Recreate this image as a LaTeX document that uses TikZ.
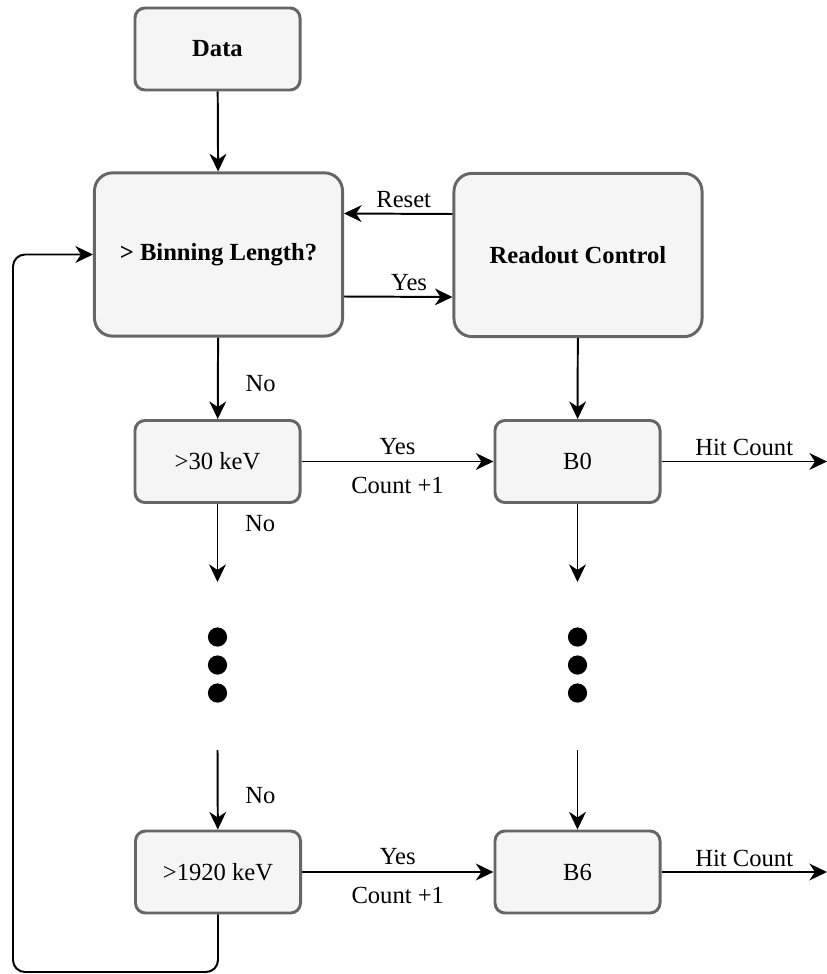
\documentclass[tikz,border=0pt]{standalone}
\usepackage{fontspec}
\setmainfont{Liberation Serif}
\usetikzlibrary{arrows.meta,calc}

\definecolor{boxfill}{HTML}{F5F5F5}
\definecolor{boxline}{HTML}{666666}

\newcommand{\flowfont}{\fontsize{17.5}{20}\selectfont}

\tikzset{
	block/.style={rectangle,draw=boxline,fill=boxfill,line width=2.1pt,rounded corners=0.25cm,
		minimum width=4.125cm,minimum height=2.05cm,inner sep=0pt,align=center},
	bigblock/.style={block,rounded corners=0.45cm,minimum width=6.2cm,minimum height=4.08cm},
	flow/.style={-{Stealth[length=0.44cm,width=0.42cm,inset=0.14cm]},line width=1.4pt},
	blob/.style={circle,fill=black,inner sep=0pt,minimum size=0.48cm},
}

\begin{document}
\begin{tikzpicture}[x=0.025cm,y=-0.025cm,font=\flowfont]
	\useasboundingbox (0,0) rectangle (827,974);

	% input and the binning check
	\node[block] (data) at (217.5,49) {\textbf{Data}};
	\node[bigblock] (bin) at (218.5,254.5) {\textbf{> Binning Length?}};
	\node[bigblock] (ctrl) at (578,255) {\textbf{Readout Control}};

		\path[flow] (data) edge (bin);
		\path[flow] ($(ctrl.west)+(0,-41)$) edge node[above,pos=0.45] {Reset} ($(bin.east)+(0,-41)$);
		\path[flow] ($(bin.east)+(0,42)$) edge node[above,pos=0.6] {Yes} ($(ctrl.west)+(0,42)$);

	% first energy threshold and its bin
	\node[block] (e30) at (217.5,461.5) {>30 keV};
	\node[block] (b0) at (577.5,461.5) {B0};
	\coordinate (b0out) at (827,461.5);

		\path[flow] (bin) edge node[right=0.55cm,pos=0.57] {No} (e30);
		\path[flow] (ctrl) edge (b0);
		\path[flow] (e30) edge node[above=1pt] {Yes} node[below=7pt] {Count +1} (b0);
		\path[flow] (b0) edge node[above] {Hit Count} (b0out);

	% skipped thresholds
	\coordinate (lgapin) at (217.5,582);
	\coordinate (rgapin) at (577.5,582);
	\coordinate (lgapout) at (217.5,750);
	\coordinate (rgapout) at (577.5,750);
	\foreach \y/\n in {637/1,665/2,693/3} {
		\node[blob] (ldot\n) at (217.5,\y) {};
		\node[blob] (rdot\n) at (577.5,\y) {};
	}

		\path[flow] (e30) edge node[right=0.55cm,pos=0.25] {No} (lgapin);
		\path[flow] (b0) edge (rgapin);

	% last energy threshold and its bin
	\node[block] (e1920) at (218,872) {>1920 keV};
	\node[block] (b6) at (577.5,872) {B6};
	\coordinate (b6out) at (827,872);

		\path[flow] (lgapout) edge node[right=0.55cm,pos=0.57] {No} (e1920);
		\path[flow] (rgapout) edge (b6);
		\path[flow] (e1920) edge node[above=1pt] {Yes} node[below=7pt] {Count +1} (b6);
		\path[flow] (b6) edge node[above] {Hit Count} (b6out);

	% back to the binning check
	\coordinate (loopcorner) at (13,972);
	\draw[flow,rounded corners=0.3cm] (e1920.south) |- (loopcorner) |- (bin.west);
\end{tikzpicture}
\end{document}
